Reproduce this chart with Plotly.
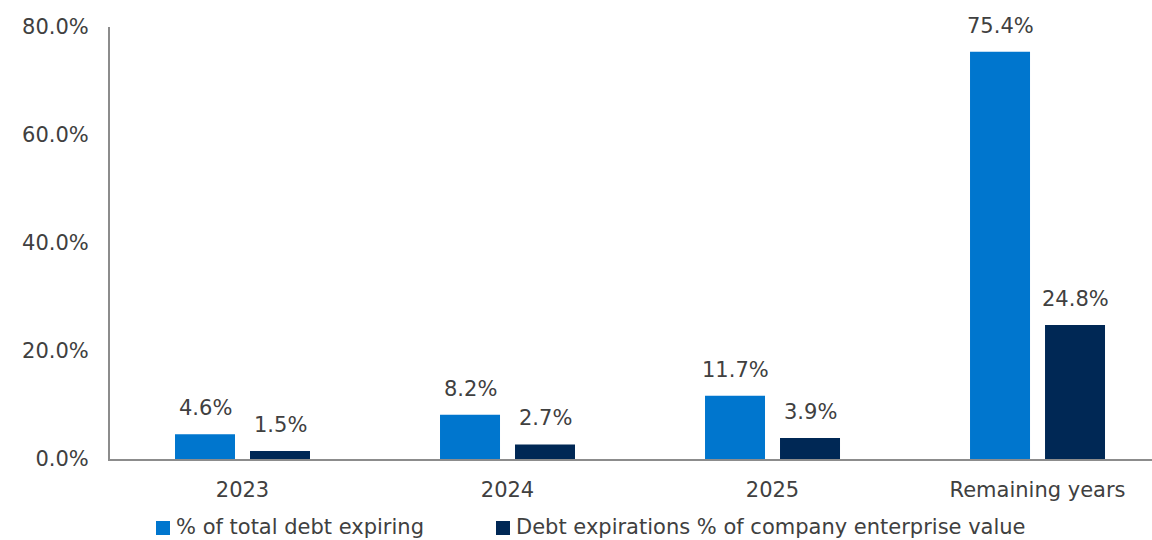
import plotly.graph_objects as go

categories = ["2023", "2024", "2025", "Remaining years"]
total_debt_expiring = [4.6, 8.2, 11.7, 75.4]
ev_expirations = [1.5, 2.7, 3.9, 24.8]
series_names = ["% of total debt expiring", "Debt expirations % of company enterprise value"]
y_tick_values = [0, 20, 40, 60, 80]
y_tick_labels = ["0.0%", "20.0%", "40.0%", "60.0%", "80.0%"]

LIGHT = "#0076CE"
DARK = "#002855"
TEXT = "#404040"
AXIS = "#8C8C8C"
FONT = "DejaVu Sans, sans-serif"
SIZE = 21

W, H = 1152, 540
ML, MR, MT, MB = 110, 0, 27, 81
PLOT_W, PLOT_H = W - ML - MR, H - MT - MB


def px_x(px):
    return (px - ML) / PLOT_W


def px_y(py):
    return (H - MB - py) / PLOT_H


series = [
    (series_names[0], total_debt_expiring, LIGHT, -37.5),
    (series_names[1], ev_expirations, DARK, 37.5),
]

fig = go.Figure()
for name, values, color, shift in series:
    fig.add_bar(
        x=categories, y=values, name=name, showlegend=False,
        marker=dict(color=color, line=dict(width=0)),
    )
    # value labels sit a little higher above each bar than plotly's own outside text;
    # category positions are given by index so "2023" is not read as a number
    for idx, val in enumerate(values):
        fig.add_annotation(
            x=idx, y=val, xref="x", yref="y", text=f"{val:.1f}%",
            showarrow=False, xshift=shift, yshift=12, yanchor="bottom",
            font=dict(size=SIZE, color=TEXT, family=FONT),
        )

# legend row below the axis: a square swatch followed by the series name
legend_left = [156, 496]
for (name, _, color, _), left in zip(series, legend_left):
    fig.add_shape(
        type="rect", xref="paper", yref="paper",
        x0=px_x(left), x1=px_x(left + 14), y0=px_y(535), y1=px_y(521),
        fillcolor=color, line=dict(width=0), layer="above",
    )
    fig.add_annotation(
        x=px_x(left + 18), y=px_y(527), xref="paper", yref="paper",
        text=name, showarrow=False, xanchor="left", yanchor="middle",
        font=dict(size=SIZE, color=TEXT, family=FONT),
    )

fig.update_layout(
    width=W, height=H,
    margin=dict(l=ML, r=MR, t=MT, b=MB, autoexpand=False),
    paper_bgcolor="white", plot_bgcolor="white",
    barmode="group", bargap=0.434, bargroupgap=0.2,
    font=dict(family=FONT, size=SIZE, color=TEXT),
    showlegend=False,
)
fig.update_xaxes(
    type="category", range=[-0.5, 3.432],
    showline=True, linecolor=AXIS, linewidth=2,
    ticks="", ticklabelstandoff=11, showgrid=False, zeroline=False,
    tickfont=dict(size=SIZE, color=TEXT, family=FONT),
)
fig.update_yaxes(
    range=[0, 80], tickvals=y_tick_values, ticktext=y_tick_labels,
    showline=True, linecolor=AXIS, linewidth=2,
    ticks="", ticklabelstandoff=15, showgrid=False, zeroline=False,
    tickfont=dict(size=SIZE, color=TEXT, family=FONT),
)

fig.write_html("out.html")
